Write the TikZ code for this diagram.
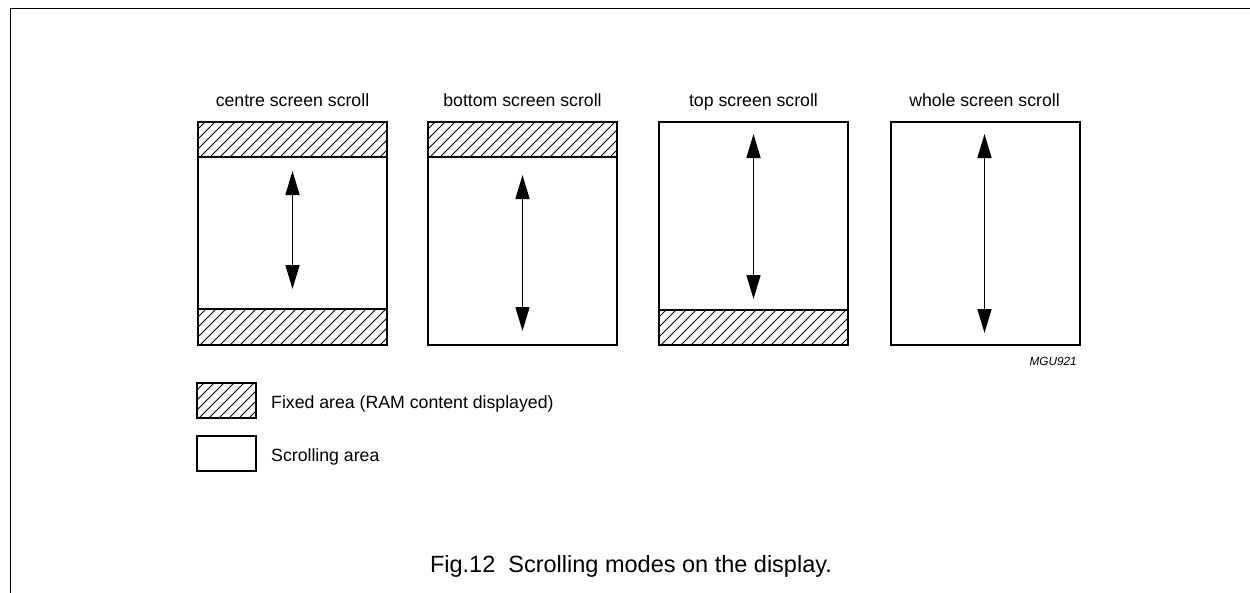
\documentclass[tikz,border=0pt]{standalone}
\usepackage{fontspec}
\setmainfont{Liberation Sans}
\usetikzlibrary{arrows.meta}
\newcommand\hatchband[4]{%
  \begin{scope}
    \clip (#1,#2) rectangle (#3,#4);
    \foreach \k in {-50,-40,...,200}{
      \draw[hatchline] ({#1+\k},{#4+2}) -- ++(45,-45);
    }
  \end{scope}
  \draw[bandline] (#1,#2) rectangle (#3,#4);
}
\tikzset{
  screen/.style={draw, line width=1.6pt, inner sep=0pt, outer sep=0pt,
                 minimum width=189pt, minimum height=223pt, anchor=north west},
  legendbox/.style={draw, line width=1.4pt, inner sep=0pt, outer sep=0pt,
                 minimum width=59pt, minimum height=35pt, anchor=north west},
  bandline/.style={line width=1.6pt},
  hatchline/.style={line width=0.8pt},
  scrollarrow/.style={line width=1.6pt,
     {Triangle[length=24pt,width=14pt]}-{Triangle[length=24pt,width=14pt]}},
  lbl/.style={font=\fontsize{17.7}{20}\selectfont, inner sep=0pt},
  caption/.style={font=\fontsize{23.5}{27}\selectfont, inner sep=0pt},
  tag/.style={font=\fontsize{11.8}{14}\selectfont\itshape, inner sep=0pt},
  frame/.style={line width=1.6pt}
}
\begin{document}
\begin{tikzpicture}[x=1pt,y=-1pt]
\useasboundingbox (0,0) rectangle (1250,592);
% frame
\draw[frame] (10.5,600) -- (10.5,8.5) -- (1260,8.5);

% titles
\node[lbl, anchor=base] (t1) at (292.5,106) {centre screen scroll};
\node[lbl, anchor=base] (t2) at (522.5,106) {bottom screen scroll};
\node[lbl, anchor=base] (t3) at (753.5,106) {top screen scroll};
\node[lbl, anchor=base] (t4) at (984.5,106) {whole screen scroll};

% hatched bands
\hatchband{198}{122}{387}{157}
\hatchband{198}{309}{387}{345}
\hatchband{428}{122}{617}{157}
\hatchband{659}{310}{848}{345}

% screens
\node[screen] (s1) at (198,122) {};
\node[screen] (s2) at (428,122) {};
\node[screen] (s3) at (659,122) {};
\node[screen] (s4) at (891,122) {};

% arrows
\coordinate (a1t) at (292.5,171);
\coordinate (a1b) at (292.5,289);
\coordinate (a2t) at (522.5,175);
\coordinate (a2b) at (522.5,331);
\coordinate (a3t) at (753.5,134);
\coordinate (a3b) at (753.5,299);
\coordinate (a4t) at (984.5,134);
\coordinate (a4b) at (984.5,333);
\draw[scrollarrow] (a1t) -- (a1b);
\draw[scrollarrow] (a2t) -- (a2b);
\draw[scrollarrow] (a3t) -- (a3b);
\draw[scrollarrow] (a4t) -- (a4b);

\node[tag, anchor=base east] (mgu) at (1077,365) {MGU921};

% legend
\hatchband{197}{383}{256}{418}
\node[legendbox] (l1) at (197,383) {};
\node[legendbox] (l2) at (197,436) {};
\node[lbl, anchor=base west] (lt1) at (271,408) {Fixed area (RAM content displayed)};
\node[lbl, anchor=base west] (lt2) at (271,461) {Scrolling area};

% caption
\node[caption, anchor=base] (cap) at (631,572) {Fig.12\ \ Scrolling modes on the display.};
\end{tikzpicture}
\end{document}
